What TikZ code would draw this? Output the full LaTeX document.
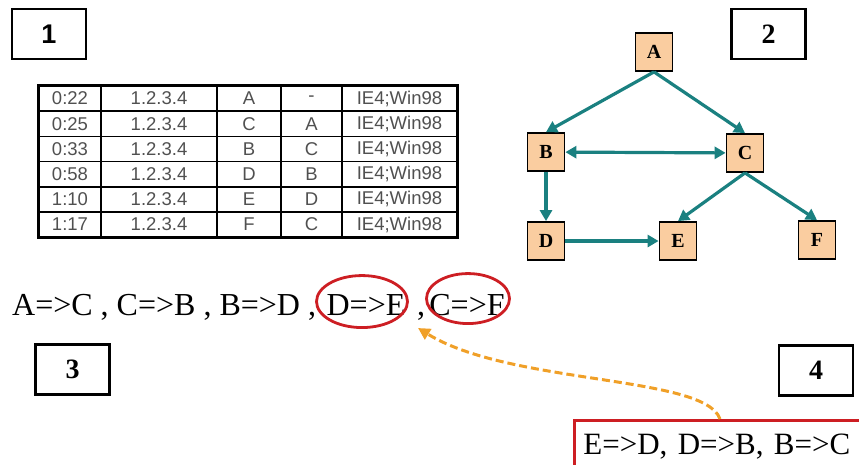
\documentclass[tikz,border=0pt]{standalone}
\usepackage{fontspec}
\setmainfont{Liberation Serif}
\newfontfamily\sansfnt{Liberation Sans}
\usetikzlibrary{arrows.meta,positioning}

\definecolor{peach}{RGB}{250,205,160}
\definecolor{tealink}{RGB}{26,128,128}
\definecolor{ringred}{RGB}{205,30,35}
\definecolor{dashorange}{RGB}{240,160,40}
\definecolor{cellgray}{RGB}{80,80,80}

\begin{document}
\begin{tikzpicture}
  [x=1pt, y=-1pt,
   numbox/.style={draw=black, line width=2.2pt, minimum width=74, minimum height=50,
                  inner sep=0pt, font=\fontsize{28}{28}\selectfont\bfseries},
   cell/.style={draw=black, line width=1.5pt, minimum height=25.2, inner sep=0pt,
                text=cellgray, font=\sansfnt\fontsize{18.5}{18.5}\selectfont},
   gnode/.style={rectangle, fill=peach, draw=black, line width=1.8pt, minimum width=37,
                 minimum height=38, inner sep=0pt, font=\fontsize{20}{20}\selectfont\bfseries},
   link/.style={draw=tealink, line width=3.2pt, -{Triangle[length=11pt,width=12pt]}},
   seq/.style={inner sep=0pt, font=\fontsize{32}{32}\selectfont},
   ring/.style={draw=ringred, line width=2.8pt},
   rulebox/.style={draw=ringred, line width=2.8pt, inner xsep=9pt, inner ysep=14pt,
                   text width=300pt, align=left, font=\fontsize{31}{31}\selectfont},
   hint/.style={draw=dashorange, line width=3pt, dash pattern=on 8pt off 4pt,
                -{Triangle[length=12pt,width=12pt]}}]

  \clip (0,0) rectangle (859,464);

  % numbered labels
  \node[numbox, font=\sansfnt\fontsize{27}{27}\selectfont\bfseries] (lab1) at (49,34) {1};
  \node[numbox] (lab2) at (768.5,34) {2};
  \node[numbox] (lab3) at (72.5,369.5) {3};
  \node[numbox] (lab4) at (816,370.5) {4};

  % log table
  \foreach \tm/\pg/\rf [count=\i] in {0:22/A/-,0:25/C/A,0:33/B/C,0:58/D/B,1:10/E/D,1:17/F/C} {
    \node[cell, minimum width=62]  (t\i) at (70,{73.4+25.2*\i})    {\tm};
    \node[cell, minimum width=116] (h\i) at (159,{73.4+25.2*\i})   {1.2.3.4};
    \node[cell, minimum width=64]  (p\i) at (249,{73.4+25.2*\i})   {\pg};
    \node[cell, minimum width=61]  (r\i) at (311.5,{73.4+25.2*\i}) {\rf};
    \node[cell, minimum width=115] (a\i) at (399.5,{73.4+25.2*\i}) {IE4;Win98};
  }
  \draw[line width=2.8pt] (t1.north west) rectangle (a6.south east);

  % page graph
  \node[gnode] (A) at (654,52)  {A};
  \node[gnode] (B) at (546,152) {B};
  \node[gnode] (C) at (745,153) {C};
  \node[gnode] (D) at (546,241) {D};
  \node[gnode] (E) at (678,241) {E};
  \node[gnode] (F) at (817,240) {F};

  \foreach \from/\to in {A/B,A/C,B/D,C/E,C/F}
    \draw[link] (\from.south) -- (\to.north);
  \draw[link] (D) -- (E);
  \draw[link, {Triangle[length=11pt,width=12pt]}-{Triangle[length=11pt,width=12pt]}] (B) -- (C);

  % extracted sequence
  \node[seq, anchor=base west] (pre) at (12,315) {A=>C , C=>B , B=>D ,};
  \node[seq, anchor=base] (de) at (366,315) {D=>E};
  \node[seq, anchor=base] (sep) at (421,315) {,};
  \node[seq, anchor=base] (cf) at (467,315) {C=>F};
  \draw[ring] ([xshift=-4pt,yshift=3pt]de.center) ellipse [x radius=45.5pt, y radius=26pt];
  \draw[ring] ([xshift=1pt,yshift=6pt]cf.center) ellipse [x radius=41.5pt, y radius=25pt];

  % backward steps
  \node[rulebox, anchor=north west] (rules) at (573,419) {E=>D, D=>B, B=>C};
  \coordinate (src) at ([xshift=147pt]rules.north west);
  \coordinate (tip) at (418,328);
  \draw[hint] (src) .. controls (705,375) and (510,385) .. (tip);
\end{tikzpicture}
\end{document}
